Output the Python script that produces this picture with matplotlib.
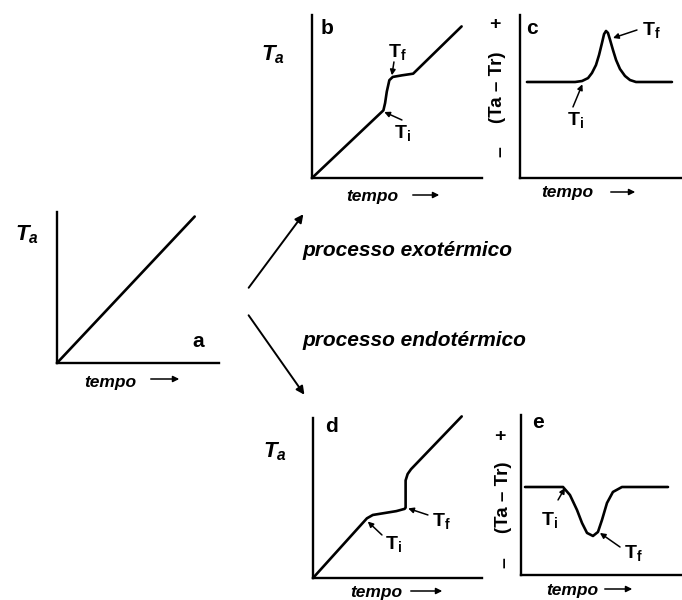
import numpy as np
import matplotlib
matplotlib.use("Agg")
import matplotlib.pyplot as plt

plt.rcParams['font.family'] = 'Liberation Sans'
plt.rcParams['mathtext.fontset'] = 'custom'
plt.rcParams['mathtext.rm'] = 'Liberation Sans:bold'
plt.rcParams['mathtext.it'] = 'Liberation Sans:bold:italic'
plt.rcParams['mathtext.bf'] = 'Liberation Sans:bold'

# curves (time, temperature) on a 0-10 scale
t_a = [0, 8.5]
T_a = [0, 9.7]

t_b = [0, 4.2, 4.3, 4.4, 4.55, 4.75, 5.3, 5.95, 8.8]
T_b = [0, 4.15, 4.6, 5.3, 6.0, 6.2, 6.3, 6.4, 9.3]

t_c = [0.43, 3.40, 3.83, 4.20, 4.44, 4.69, 4.88, 5.06, 5.19, 5.31, 5.43,
       5.56, 5.74, 5.93, 6.17, 6.48, 6.79, 7.16, 9.38]
dT_c = [5.89, 5.89, 5.95, 6.13, 6.44, 6.93, 7.55, 8.28, 8.83, 9.02, 8.90,
        8.47, 7.85, 7.24, 6.69, 6.26, 6.01, 5.89, 5.89]

t_d = [0, 3.19, 3.54, 4.93, 5.42, 5.48, 5.48, 5.6, 5.8, 8.8]
T_d = [0, 3.73, 3.94, 4.18, 4.32, 4.4, 6.1, 6.5, 6.8, 10.1]

t_e = [0.25, 2.4, 2.61, 3.04, 3.48, 3.79, 4.10, 4.47, 4.78, 5.03, 5.34,
       5.71, 6.27, 9.13]
dT_e = [5.5, 5.5, 5.5, 5.0, 4.06, 3.25, 2.63, 2.44, 2.69, 3.44, 4.5,
        5.19, 5.5, 5.5]

W, H = 682, 600
fig = plt.figure(figsize=(W / 100, H / 100), dpi=100)


def rect(l, t, r, b):
    return [l / W, 1 - b / H, (r - l) / W, (b - t) / H]


def px(x, y):
    return (x / W, 1 - y / H)


def panel(box, x, y):
    ax = fig.add_axes(rect(*box))
    ax.plot(x, y, color='black', lw=1.9, clip_on=False,
            solid_capstyle='round', solid_joinstyle='round')
    ax.set_xlim(0, 10)
    ax.set_ylim(0, 10)
    ax.spines['right'].set_visible(False)
    ax.spines['top'].set_visible(False)
    ax.spines['left'].set_linewidth(1.7)
    ax.spines['bottom'].set_linewidth(1.7)
    ax.set_xticks([])
    ax.set_yticks([])
    ax.patch.set_alpha(0)
    return ax


def mark(ax, label, tip, tail, pos):
    ax.annotate('', xy=tip, xytext=tail,
                arrowprops=dict(arrowstyle='-|>', color='black', lw=1.1,
                                mutation_scale=8, shrinkA=0, shrinkB=0))
    ax.text(pos[0], pos[1], label, fontsize=14, ha='center', va='center')


ax_a = panel((57, 212, 219, 363), t_a, T_a)
ax_b = panel((312, 15, 482, 178), t_b, T_b)
ax_c = panel((520, 15, 682, 178), t_c, dT_c)
ax_d = panel((313, 418, 482, 578), t_d, T_d)
ax_e = panel((521, 415, 682, 575), t_e, dT_e)

# T_i / T_f markers
mark(ax_b, r'$\mathrm{T_f}$', (t_b[5] - 0.05, T_b[5] + 0.1), (4.82, 7.12), (5.0, 7.7))
mark(ax_b, r'$\mathrm{T_i}$', (t_b[1] + 0.05, T_b[1] - 0.1), (5.29, 3.56), (5.3, 2.75))
mark(ax_c, r'$\mathrm{T_f}$', (5.74, 8.59), (7.22, 9.08), (8.1, 9.1))
mark(ax_c, r'$\mathrm{T_i}$', (3.85, 5.75), (3.27, 4.36), (3.4, 3.55))
mark(ax_d, r'$\mathrm{T_i}$', (t_d[1] + 0.05, T_d[1] - 0.2), (4.08, 2.69), (4.75, 2.1))
mark(ax_d, r'$\mathrm{T_f}$', (t_d[5] + 0.15, T_d[5] - 0.05), (6.8, 3.94), (7.6, 3.55))
mark(ax_e, r'$\mathrm{T_i}$', (2.73, 5.44), (2.3, 4.69), (1.75, 3.45))
mark(ax_e, r'$\mathrm{T_f}$', (4.9, 2.63), (6.15, 1.75), (6.95, 1.4))

# axis labels and panel letters
for (x, y) in [(27, 235), (273, 55), (275, 452)]:
    fig.text(*px(x, y), r'$T_a$', fontsize=16, ha='center', va='center')
for letter, (x, y) in zip('abcde', [(198, 342), (327, 28), (532, 28), (332, 427), (538, 423)]):
    fig.text(*px(x, y), letter, fontsize=15, fontweight='bold', ha='center', va='center')

tempo_pos = [(110, 382), (372, 197), (567, 193), (376, 593), (572, 590)]
tempo_arrow = [(148, 182, 379), (410, 442, 195), (608, 638, 192), (408, 445, 591), (602, 635, 589)]
for (x, y), (x0, x1, ya) in zip(tempo_pos, tempo_arrow):
    fig.text(*px(x, y), 'tempo', fontsize=12.5, fontweight='bold', style='italic',
             ha='center', va='center')
    fig.add_artist(matplotlib.patches.FancyArrowPatch(
        px(x0, ya), px(x1, ya), transform=fig.transFigure, arrowstyle='-|>',
        mutation_scale=9, lw=1.1, color='black'))

for (xp, yp), (xl, yl), (xm, ym) in [((495, 25), (498, 87), (501, 152)),
                                     ((500, 437), (503, 497), (505, 563))]:
    fig.text(*px(xp, yp), '+', fontsize=14, fontweight='bold', ha='center', va='center')
    fig.text(*px(xl, yl), '(Ta – Tr)', fontsize=13.5, fontweight='bold', rotation=90,
             ha='center', va='center')
    fig.text(*px(xm, ym), '–', fontsize=14, fontweight='bold', rotation=90,
             ha='center', va='center')

# branching arrows
for start, end in [((247, 290), (305, 212)), ((247, 313), (306, 397))]:
    fig.add_artist(matplotlib.patches.FancyArrowPatch(
        px(*start), px(*end), transform=fig.transFigure, arrowstyle='-|>',
        mutation_scale=12, lw=1.4, color='black'))

fig.text(*px(302, 251), 'processo exotérmico', fontsize=15, fontweight='bold',
         style='italic', ha='left', va='center')
fig.text(*px(302, 340), 'processo endotérmico', fontsize=15, fontweight='bold',
         style='italic', ha='left', va='center')

fig.savefig('out.png', dpi=100, facecolor='white')
